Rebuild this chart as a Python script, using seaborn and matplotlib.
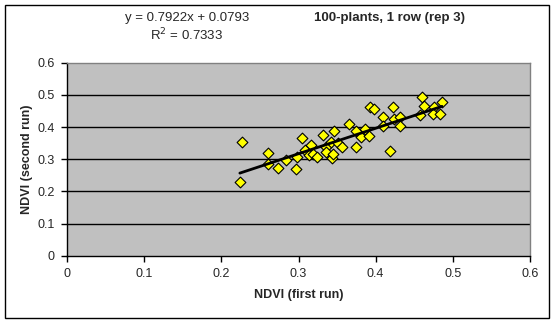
import matplotlib
matplotlib.use("Agg")
import matplotlib.pyplot as plt
import seaborn as sns
import numpy as np
import pandas as pd
from matplotlib.patches import Rectangle

ndvi_first = [0.227, 0.224, 0.260, 0.260, 0.273, 0.284, 0.297, 0.298, 0.305, 0.309,
              0.316, 0.314, 0.319, 0.324, 0.332, 0.346, 0.335, 0.336, 0.344, 0.345,
              0.342, 0.351, 0.356, 0.365, 0.374, 0.375, 0.381, 0.386, 0.391, 0.393,
              0.398, 0.422, 0.460, 0.410, 0.409, 0.424, 0.431, 0.432, 0.419, 0.463,
              0.458, 0.475, 0.486, 0.474, 0.484]
ndvi_second = [0.353, 0.228, 0.319, 0.284, 0.273, 0.297, 0.270, 0.307, 0.365, 0.329,
               0.345, 0.312, 0.316, 0.306, 0.375, 0.388, 0.337, 0.323, 0.305, 0.316,
               0.353, 0.351, 0.337, 0.409, 0.389, 0.338, 0.369, 0.394, 0.371, 0.463,
               0.456, 0.462, 0.493, 0.431, 0.402, 0.425, 0.432, 0.402, 0.327, 0.465,
               0.436, 0.463, 0.477, 0.440, 0.441]
slope, intercept = 0.7922, 0.0793
r_squared = 0.7333
ticks = [0, 0.1, 0.2, 0.3, 0.4, 0.5, 0.6]
tick_labels = ["0", "0.1", "0.2", "0.3", "0.4", "0.5", "0.6"]
title = "100-plants, 1 row (rep 3)"
xlabel = "NDVI (first run)"
ylabel = "NDVI (second run)"

sns.set_style("white")
plt.rcParams['font.family'] = ['Liberation Sans', 'DejaVu Sans']

df = pd.DataFrame({"x": ndvi_first, "y": ndvi_second})
xs = np.array([min(ndvi_first), max(ndvi_first)])
trend = pd.DataFrame({"x": xs, "y": slope * xs + intercept})

fig = plt.figure(figsize=(5.56, 3.24), dpi=100)
fig.patch.set_facecolor("white")
ax = fig.add_axes([67/556, 1-255.7/324, (530-67)/556, (255.7-62.7)/324])
ax.set_facecolor("#C0C0C0")

for t in ticks[1:-1]:
    ax.axhline(t, color="black", lw=1.0, zorder=1)

sns.scatterplot(data=df, x="x", y="y", marker="D", s=30, color="#FFFF00",
                edgecolor="black", linewidth=0.8, ax=ax, zorder=3)
sns.lineplot(data=trend, x="x", y="y", color="black", lw=2.0, ax=ax, zorder=4)

ax.set_xlim(0, 0.6)
ax.set_ylim(0, 0.6)
ax.set_xticks(ticks)
ax.set_xticklabels(tick_labels)
ax.set_yticks(ticks)
ax.set_yticklabels(tick_labels)
ax.tick_params(axis="both", direction="out", length=4, width=1, color="black",
               labelsize=9, pad=5, bottom=True, left=True)
for s in ["left", "bottom"]:
    ax.spines[s].set_color("black")
    ax.spines[s].set_linewidth(1)
for s in ["top", "right"]:
    ax.spines[s].set_color("#808080")
    ax.spines[s].set_linewidth(1)
ax.set_xlabel(xlabel, fontsize=9, fontweight="bold", labelpad=6)
ax.set_ylabel(ylabel, fontsize=9, fontweight="bold", labelpad=3)

fig.text(390/556, 1-18/324, title, ha="center", va="center", fontsize=9.5, fontweight="bold")
fig.text(187/556, 1-18/324, f"y = {slope:.4f}x + {intercept:.4f}", ha="center", va="center", fontsize=9.5)
fig.text(187/556, 1-35/324, f"R$^2$ = {r_squared:.4f}", ha="center", va="center", fontsize=9.5)

fig.patches.append(Rectangle((5/556, 1-318/324), 544/556, 313/324, transform=fig.transFigure,
                             fill=False, edgecolor="black", lw=1))

fig.savefig("out.png", dpi=100)
